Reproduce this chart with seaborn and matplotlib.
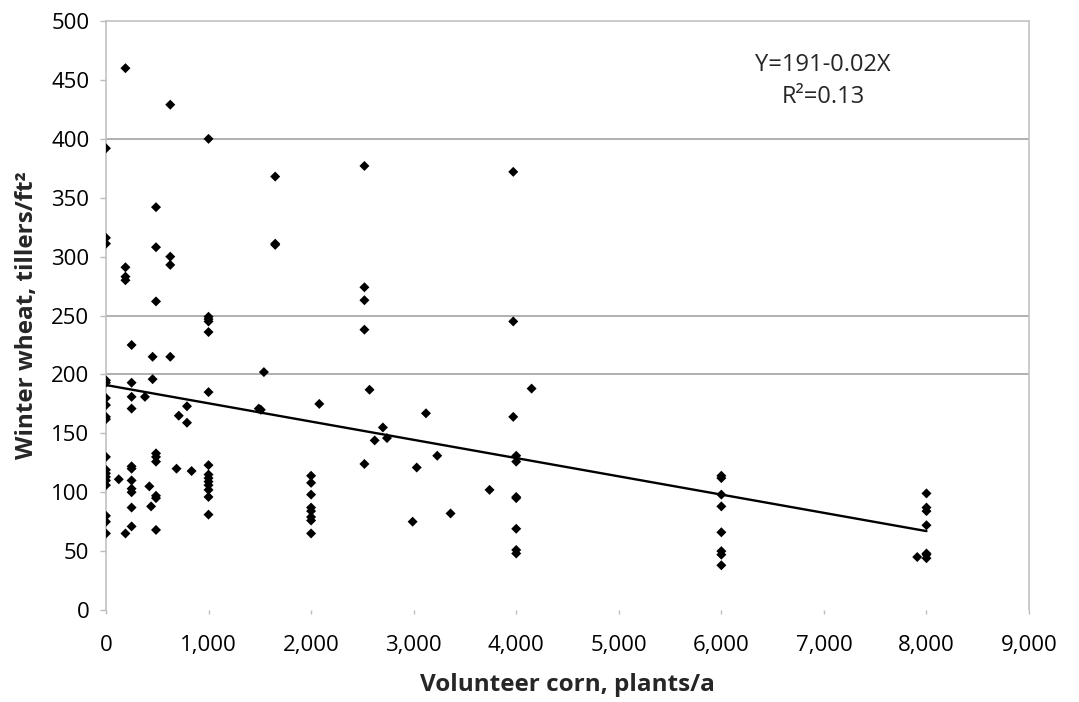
import numpy as np
import pandas as pd
import matplotlib
matplotlib.use("Agg")
import matplotlib.pyplot as plt
import seaborn as sns

# volunteer corn density (plants/a) and winter wheat tillers/ft2
corn = [0]*18 + [125] + [190]*5 + [250]*11 + [380] + [455, 455, 423, 440] \
    + [488]*9 + [627]*4 + [688, 710, 790, 790, 835] + [1000]*14 \
    + [1490, 1510, 1540] + [1650]*3 + [2000]*8 + [2080] + [2520]*5 \
    + [2570, 2620, 2700, 2740, 2990, 3030, 3120, 3230, 3360, 3740] \
    + [3971]*3 + [4000]*7 + [4150] + [6000]*8 + [8000]*7 + [7910]
wheat = [392, 316, 311, 195, 193, 180, 174, 164, 162, 130, 119, 116, 113, 110, 106, 80, 75, 65] \
    + [111] + [460, 291, 283, 280, 65] \
    + [225, 193, 181, 171, 122, 120, 110, 103, 100, 87, 71] + [181] \
    + [215, 196, 105, 88] \
    + [342, 308, 262, 133, 130, 126, 97, 95, 68] \
    + [429, 300, 293, 215] + [120, 165, 173, 159, 118] \
    + [400, 249, 247, 245, 236, 185, 123, 115, 112, 109, 106, 102, 96, 81] \
    + [171, 170, 202] + [368, 311, 310] \
    + [114, 108, 98, 87, 84, 79, 76, 65] + [175] \
    + [377, 274, 263, 238, 124] \
    + [187, 144, 155, 146, 75, 121, 167, 131, 82, 102] \
    + [372, 245, 164] + [131, 126, 96, 95, 69, 51, 48] + [188] \
    + [114, 112, 98, 88, 66, 50, 47, 38] \
    + [99, 87, 84, 72, 48, 47, 44] + [45]

# trend line as drawn in the figure
fit_intercept = 191
fit_slope = -0.0155

x_ticks = list(range(0, 9001, 1000))
y_ticks = list(range(0, 501, 50))
grid_at = [200, 250, 400]

df = pd.DataFrame({'corn': corn, 'wheat': wheat})
xs = np.array([df['corn'].min(), df['corn'].max()])
trend = pd.DataFrame({'corn': xs, 'wheat': fit_intercept + fit_slope * xs})

sns.set_theme(style='white')
plt.rcParams['font.family'] = ['Open Sans', 'DejaVu Sans']

fig = plt.figure(figsize=(10.79, 7.02), dpi=100)
ax = fig.add_axes([0.0982, 0.131, 0.8555, 0.839])

for g in grid_at:
    ax.axhline(g, color='#9a9a9a', lw=1.1, zorder=0)

sns.scatterplot(x='corn', y='wheat', data=df, marker='D', s=26, color='black',
                edgecolor='none', ax=ax, zorder=3)
sns.lineplot(x='corn', y='wheat', data=trend, color='black', lw=1.7, ax=ax, zorder=2)

ax.set_xlim(0, 9000)
ax.set_ylim(0, 500)
ax.set_xticks(x_ticks)
ax.set_xticklabels(['{:,}'.format(v) for v in x_ticks])
ax.set_yticks(y_ticks)

for side in ['left', 'top', 'right']:
    ax.spines[side].set_color('#bdbdbd')
    ax.spines[side].set_linewidth(1.1)
ax.spines['bottom'].set_visible(False)

ax.tick_params(axis='y', left=True, length=4, width=1, color='#bdbdbd',
               labelsize=16, pad=8, labelcolor='black')
ax.tick_params(axis='x', bottom=True, length=3, width=1, color='#bdbdbd',
               labelsize=16, pad=15, labelcolor='black')

ax.set_xlabel('Volunteer corn, plants/a', fontsize=17.5, fontweight='bold', labelpad=12)
ax.set_ylabel('Winter wheat, tillers/ft²', fontsize=17.5, fontweight='bold', labelpad=9)

ax.text(0.777, 0.925, 'Y=191-0.02X', transform=ax.transAxes, ha='center', va='center',
        fontsize=17)
ax.text(0.777, 0.871, 'R²=0.13', transform=ax.transAxes, ha='center', va='center',
        fontsize=17)

fig.savefig('out.png', dpi=100)
